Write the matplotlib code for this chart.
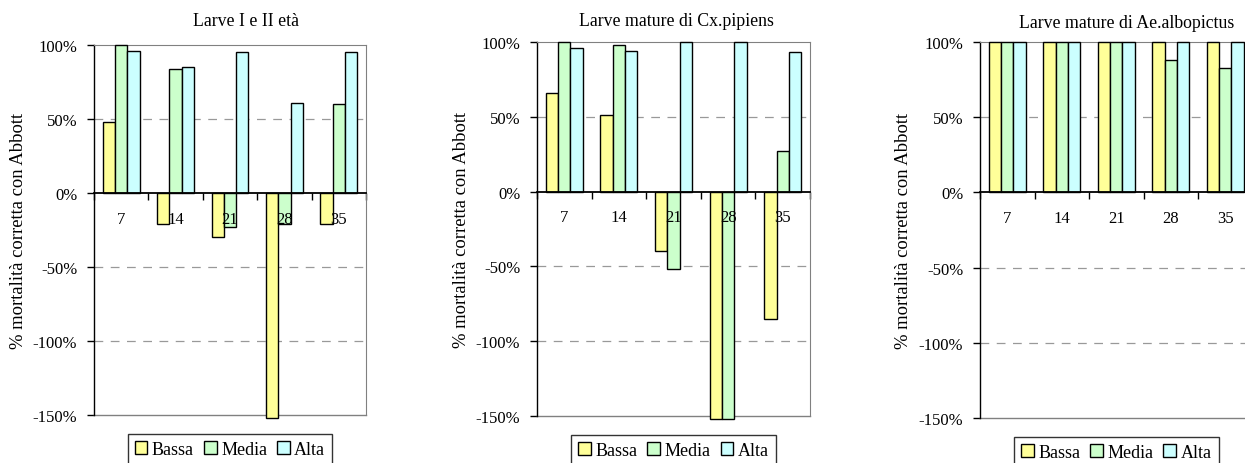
import matplotlib
matplotlib.use("Agg")
import matplotlib.pyplot as plt
from matplotlib.ticker import FuncFormatter
import numpy as np

plt.rcParams['font.family'] = ['Liberation Serif', 'DejaVu Serif']

# sampling days and treatment levels
days = [7, 14, 21, 28, 35]
levels = ["Bassa", "Media", "Alta"]
colors = ["#FFFF99", "#CCFFCC", "#CCFFFF"]

titles = ["Larve I e II età", "Larve mature di Cx.pipiens", "Larve mature di Ae.albopictus"]

# corrected mortality (%) per panel: Bassa, Media, Alta
larve_giovani_bassa = [48, -21, -30, -152, -21]
larve_giovani_media = [100, 84, -23, -21, 60]
larve_giovani_alta = [96, 85, 95, 61, 95]

pipiens_bassa = [66, 51, -40, -152, -85]
pipiens_media = [100, 98, -52, -152, 27]
pipiens_alta = [96, 94, 100, 100, 93]

albopictus_bassa = [100, 100, 100, 100, 100]
albopictus_media = [100, 100, 100, 88, 83]
albopictus_alta = [100, 100, 100, 100, 100]

panels = [
    (larve_giovani_bassa, larve_giovani_media, larve_giovani_alta),
    (pipiens_bassa, pipiens_media, pipiens_alta),
    (albopictus_bassa, albopictus_media, albopictus_alta),
]

W, H = 1245, 464
fig = plt.figure(figsize=(W / 100, H / 100), dpi=100)

# axes boxes in pixels: left, top, right, bottom
boxes = [(94, 46, 366, 416), (537, 43, 810, 417), (980, 43, 1252.5, 419)]
title_pos = [(246, 22), (676, 22), (1127, 23)]
ylabel_x = [19, 462, 904]

fs = 12
for i, (vals, box, tpos, ylx) in enumerate(zip(panels, boxes, title_pos, ylabel_x)):
    l, t, r, b = box
    ax = fig.add_axes([l / W, 1 - b / H, (r - l) / W, (b - t) / H])
    x = np.arange(len(days))
    bw = 0.226
    for j, (series, col) in enumerate(zip(vals, colors)):
        ax.bar(x + (j - 1) * bw, series, bw, color=col, edgecolor="black",
               linewidth=1.0, label=levels[j], clip_on=False, zorder=3)

    ax.set_xlim(-0.5, len(days) - 0.5)
    ax.set_ylim(-150, 100)
    ax.set_yticks([-150, -100, -50, 0, 50, 100])
    ax.yaxis.set_major_formatter(FuncFormatter(lambda v, p: f"{v:.0f}%"))
    ax.tick_params(axis="y", direction="out", length=5, width=1, pad=7, labelsize=fs)

    # dashed gridlines
    for g in [50, -50, -100]:
        ax.axhline(g, color="#999999", linestyle=(0, (7, 6)), linewidth=0.9, zorder=1)

    # category axis sits on zero
    ax.spines["bottom"].set_position(("data", 0))
    ax.spines["bottom"].set_linewidth(1.3)
    ax.spines["bottom"].set_zorder(4)
    ax.spines["left"].set_linewidth(1.0)
    ax.spines["top"].set_color("#808080")
    ax.spines["right"].set_color("#808080")
    ax.axhline(-150, color="#808080", linewidth=1.0, zorder=2, clip_on=False)

    ax.set_xticks([])
    ax.set_xticks(np.arange(len(days) + 1) - 0.5, minor=True)
    ax.tick_params(axis="x", which="minor", direction="out", length=5, width=1)
    for xi, d in zip(x, days):
        ax.annotate(str(d), (xi, 0), xytext=(0, -18.5), textcoords="offset points",
                    ha="center", va="center", fontsize=fs, zorder=6)

    fig.text(ylx / W, 1 - (t + b) / 2 / H, "% mortalità corretta con Abbott",
             rotation=90, ha="center", va="center", fontsize=13.4)
    fig.text(tpos[0] / W, 1 - tpos[1] / H, titles[i], ha="center", va="center", fontsize=12.8)

    leg = ax.legend(loc="upper center", bbox_to_anchor=(0.5, -0.05), ncol=3,
                    frameon=True, fancybox=False, edgecolor="black", fontsize=13,
                    handlelength=0.7, handleheight=0.7, handletextpad=0.25,
                    columnspacing=0.55, borderpad=0.4, borderaxespad=0)
    leg.get_frame().set_linewidth(1.0)

fig.savefig("out.png", dpi=100)
